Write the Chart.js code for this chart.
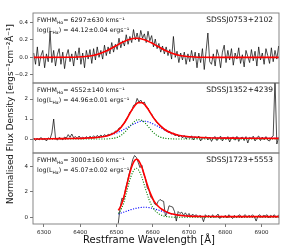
<!DOCTYPE html>
<html>
<head>
<meta charset="utf-8">
<script src="https://cdn.jsdelivr.net/npm/chart.js@4.4.1/dist/chart.umd.min.js"></script>
<style>
  html, body { margin: 0; padding: 0; background: #fff; }
  #wrap { position: relative; width: 299px; height: 248px; }
  #wrap canvas { position: absolute; left: 0; top: 0; }
</style>
</head>
<body>
<div id="wrap">
  <canvas id="panel1" width="299" height="248"></canvas>
  <canvas id="panel2" width="299" height="248"></canvas>
  <canvas id="panel3" width="299" height="248"></canvas>
</div>
<script>
"use strict";

// ---- data ----
const objectNames = ['SDSSJ0753+2102', 'SDSSJ1352+4239', 'SDSSJ1723+5553'];
const fwhmText = ['6297±630', '4552±140', '3000±160'];
const lumText = ['44.12±0.04', '44.96±0.01', '45.07±0.02'];
const xLabel = 'Restframe Wavelength [Å]';
const yLabel = 'Normalised Flux Density [ergs\u207b\u00b9cm\u207b\u00b2Å\u207b\u00b9]';

const xTicks = [6300, 6400, 6500, 6600, 6700, 6800, 6900];
const yTicks1 = [-0.2, 0.0, 0.2, 0.4];
const yTicks2 = [0, 1, 2];
const yTicks3 = [0, 2, 4];

// spectrum wavelength grid, panels 1 and 2
const waveFull = [
  6272, 6277, 6282, 6287, 6292, 6297, 6302, 6307, 6312, 6317,
  6322, 6327, 6332, 6337, 6342, 6347, 6352, 6357, 6362, 6367,
  6372, 6377, 6382, 6387, 6392, 6397, 6402, 6407, 6412, 6417,
  6422, 6427, 6432, 6437, 6442, 6447, 6452, 6457, 6462, 6467,
  6472, 6477, 6482, 6487, 6492, 6497, 6502, 6507, 6512, 6517,
  6522, 6527, 6532, 6537, 6542, 6547, 6552, 6557, 6562, 6567,
  6572, 6577, 6582, 6587, 6592, 6597, 6602, 6607, 6612, 6617,
  6622, 6627, 6632, 6637, 6642, 6647, 6652, 6657, 6662, 6667,
  6672, 6677, 6682, 6687, 6692, 6697, 6702, 6707, 6712, 6717,
  6722, 6727, 6732, 6737, 6742, 6747, 6752, 6757, 6762, 6767,
  6772, 6777, 6782, 6787, 6792, 6797, 6802, 6807, 6812, 6817,
  6822, 6827, 6832, 6837, 6842, 6847, 6852, 6857, 6862, 6867,
  6872, 6877, 6882, 6887, 6892, 6897, 6902, 6907, 6912, 6917,
  6922, 6927, 6932, 6937, 6942, 6947, 6952, 6957
];

const flux1 = [
  0.05, -0.08, 0.12, -0.10, 0.02, 0.08, -0.12, 0.04, -0.05, 0.30,
  -0.06, 0.08, -0.10, 0.03, 0.10, -0.08, 0.06, -0.13, 0.02, 0.09,
  -0.05, 0.04, -0.10, 0.07, -0.03, 0.11, -0.08, 0.05, -0.12, 0.08,
  -0.02, 0.09, -0.07, 0.10, -0.03, 0.12, 0.00, 0.08, -0.02, 0.14,
  0.02, 0.12, 0.04, 0.17, 0.06, 0.15, 0.09, 0.22, 0.11, 0.19,
  0.13, 0.26, 0.15, 0.24, 0.17, 0.32, 0.20, 0.28, 0.18, 0.31,
  0.22, 0.27, 0.17, 0.30, 0.19, 0.25, 0.12, 0.21, 0.10, 0.16,
  0.06, 0.13, 0.04, 0.12, 0.02, 0.09, -0.02, 0.24, 0.00, 0.07,
  -0.06, 0.05, -0.03, 0.06, -0.08, 0.04, -0.05, 0.08, -0.04, 0.06,
  -0.12, 0.05, -0.06, 0.10, -0.14, 0.07, 0.28, -0.05, -0.08, 0.04,
  -0.10, 0.09, 0.02, -0.12, 0.06, 0.14, -0.06, 0.08, -0.03, 0.10,
  -0.09, 0.05, -0.02, 0.11, -0.07, 0.03, -0.11, 0.08, 0.01, -0.06,
  0.09, -0.04, 0.07, -0.10, 0.12, -0.03, 0.05, -0.08, 0.10, 0.02,
  -0.07, 0.11, -0.05, 0.08, -0.02, 0.13, -0.06, 0.09
];

const flux2 = [
  0.05, -0.08, 0.03, -0.05, 0.08, -0.03, 0.02, -0.10, 0.06, 0.00,
  0.30, 1.00, 0.05, -0.06, 0.08, 0.02, -0.04, 0.10, 0.05, 0.22,
  0.08, 0.25, 0.06, 0.12, 0.03, 0.15, 0.02, 0.10, 0.00, 0.12,
  0.04, 0.14, 0.06, 0.16, 0.07, 0.18, 0.10, 0.20, 0.12, 0.22,
  0.15, 0.24, 0.20, 0.30, 0.27, 0.40, 0.38, 0.55, 0.56, 0.72,
  0.78, 1.00, 1.12, 1.35, 1.40, 1.68, 1.72, 2.03, 1.85, 1.95,
  1.78, 1.85, 1.60, 1.55, 1.32, 1.25, 1.05, 0.98, 0.80, 0.75,
  0.62, 0.58, 0.45, 0.47, 0.34, 0.38, 0.24, 0.30, 0.15, 0.25,
  0.10, 0.20, 0.05, 0.17, 0.00, 0.14, 0.03, 0.16, -0.05, 0.12,
  0.02, 0.15, -0.10, 0.08, 0.03, 0.12, -0.05, 0.10, -0.12, 0.06,
  0.12, -0.08, 0.05, 0.14, -0.10, 0.08, -0.02, 0.12, -0.15, 0.06,
  0.10, -0.06, 0.13, -0.12, 0.05, 0.10, -0.08, 0.12, -0.20, 0.08,
  0.02, 0.14, -0.10, 0.06, 0.15, -0.08, 0.10, -0.04, 0.12, -0.06,
  -0.10, 0.08, 0.15, 3.00, -0.25, 0.06, 0.10, -0.30
];

// spectrum wavelength grid, panel 3
const wave3 = [
  6505, 6510, 6515, 6520, 6525, 6530, 6535, 6540, 6545, 6550,
  6555, 6560, 6565, 6570, 6575, 6580, 6585, 6590, 6595, 6600,
  6605, 6610, 6615, 6620, 6625, 6630, 6635, 6640, 6645, 6650,
  6655, 6660, 6665, 6670, 6675, 6680, 6685, 6690, 6695, 6700,
  6705, 6710, 6715, 6720, 6725, 6730, 6735, 6740, 6745, 6750,
  6755, 6760, 6765, 6770, 6775, 6780, 6785, 6790, 6795, 6800,
  6805, 6810, 6815, 6820, 6825, 6830, 6835, 6840, 6845, 6850,
  6855, 6860, 6865, 6870, 6875, 6880, 6885, 6890, 6895, 6900,
  6905, 6910, 6915, 6920, 6925, 6930, 6935, 6940, 6945, 6950,
  6955
];

const flux3 = [
  -0.50, 0.75, 1.50, 1.40, 2.25, 2.80, 3.40, 3.95, 4.55, 4.85,
  4.70, 4.30, 3.90, 4.10, 3.40, 3.05, 2.30, 2.10, 1.55, 1.45,
  1.05, 0.95, 1.25, 1.40, 1.30, 1.25, 0.10, 0.35, 0.90, 0.85,
  0.80, 0.45, -0.30, 0.45, 0.30, 0.40, 0.15, 0.35, 0.10, 0.30,
  0.05, 0.25, 0.10, 0.20, 0.00, 0.15, 0.05, -0.35, 0.20, 0.05,
  0.15, -0.05, 0.20, 0.00, 0.10, 0.25, -0.10, 0.10, 0.00, 0.15,
  -0.05, 0.20, 0.05, -0.10, 0.15, 0.00, 0.10, 0.20, -0.05, 0.10,
  0.20, 0.00, 0.15, 0.05, 0.20, 0.05, -0.30, 0.10, 0.20, 0.00,
  0.15, 0.10, 0.20, -0.05, 0.15, 0.05, 0.20, 0.00, 0.10, 0.25,
  0.05
];

// fitted models
const fitWave1 = [6272, 6375, 6395, 6415, 6435, 6455, 6475, 6495, 6515, 6535, 6555,
  6575, 6595, 6615, 6635, 6655, 6675, 6695, 6715, 6735, 6760, 6957];
const fitTotal1 = [0, 0.001, 0.004, 0.010, 0.022, 0.045, 0.079, 0.124, 0.170, 0.206, 0.220,
  0.206, 0.170, 0.124, 0.079, 0.045, 0.022, 0.010, 0.004, 0.001, 0, 0];

const fitWave2 = [6272, 6320, 6360, 6400, 6420, 6440, 6460, 6480, 6500, 6510, 6520, 6530,
  6540, 6550, 6560, 6570, 6580, 6590, 6600, 6610, 6620, 6635, 6650, 6670, 6700, 6750, 6850, 6957];
const fitTotal2 = [0.00, 0.01, 0.02, 0.03, 0.05, 0.07, 0.11, 0.19, 0.37, 0.53, 0.76, 1.05,
  1.38, 1.65, 1.82, 1.82, 1.67, 1.41, 1.12, 0.87, 0.68, 0.45, 0.31, 0.19, 0.11, 0.06, 0.04, 0.03];
const fitNarrow2 = [0, 0, 0, 0, 0, 0, 0, 0.01, 0.07, 0.15, 0.29, 0.48,
  0.70, 0.88, 0.97, 0.93, 0.78, 0.57, 0.36, 0.20, 0.10, 0.03, 0.01, 0, 0, 0, 0, 0];
const fitBroad2 = [0.00, 0.01, 0.02, 0.03, 0.05, 0.07, 0.11, 0.18, 0.30, 0.38, 0.47, 0.57,
  0.68, 0.77, 0.85, 0.89, 0.89, 0.84, 0.76, 0.67, 0.58, 0.42, 0.30, 0.19, 0.11, 0.06, 0.04, 0.03];

const fitWave3 = [6505, 6510, 6515, 6520, 6525, 6530, 6535, 6540, 6545, 6550, 6555, 6560,
  6565, 6570, 6575, 6580, 6585, 6590, 6595, 6600, 6605, 6615, 6625, 6635, 6645, 6655,
  6670, 6685, 6700, 6720, 6750, 6800, 6880, 6957];
const fitTotal3 = [0.55, 0.75, 1.10, 1.55, 2.10, 2.70, 3.30, 3.80, 4.19, 4.46, 4.56, 4.49,
  4.26, 3.93, 3.49, 3.01, 2.56, 2.14, 1.78, 1.47, 1.21, 0.87, 0.63, 0.46, 0.34, 0.25,
  0.17, 0.12, 0.09, 0.07, 0.06, 0.05, 0.05, 0.05];
const fitNarrow3 = [0.30, 0.45, 0.75, 1.15, 1.65, 2.20, 2.75, 3.20, 3.55, 3.78, 3.85, 3.75,
  3.50, 3.15, 2.70, 2.22, 1.78, 1.38, 1.05, 0.78, 0.56, 0.30, 0.15, 0.07, 0.03, 0.01,
  0, 0, 0, 0, 0, 0, 0, 0];
const fitBroad3 = [0.25, 0.30, 0.35, 0.40, 0.45, 0.50, 0.55, 0.60, 0.64, 0.68, 0.71, 0.74,
  0.76, 0.78, 0.79, 0.79, 0.78, 0.76, 0.73, 0.69, 0.65, 0.57, 0.48, 0.39, 0.31, 0.24,
  0.17, 0.12, 0.09, 0.07, 0.06, 0.05, 0.05, 0.05];

// ---- drawing ----
const FONT = '"DejaVu Sans", sans-serif';
const tickFont = { family: FONT, size: 5.5 };
const X_MIN = 6270, X_MAX = 6948;

function pts(xs, ys) {
  return xs.map((x, i) => ({ x: x, y: ys[i] }));
}

function fmt(v, decimals) {
  return v.toFixed(decimals).replace('-', '\u2212');
}

function spectrum(xs, ys) {
  return { data: pts(xs, ys), borderColor: '#000', borderWidth: 0.7, pointRadius: 0, tension: 0 };
}
function totalFit(xs, ys) {
  return { data: pts(xs, ys), borderColor: '#ff0000', borderWidth: 1.6, pointRadius: 0,
    cubicInterpolationMode: 'monotone' };
}
function component(xs, ys, colour) {
  return { data: pts(xs, ys), borderColor: colour, borderWidth: 1.1, borderDash: [1.1, 1.5],
    pointRadius: 0, cubicInterpolationMode: 'monotone' };
}

function drawRuns(ctx, x, y, runs) {
  for (const [txt, sub] of runs) {
    ctx.font = (sub ? '4.4px ' : '6.3px ') + FONT;
    ctx.fillText(txt, x, sub ? y + 1.8 : y);
    x += ctx.measureText(txt).width;
  }
}

function panelDecor(i) {
  return {
    id: 'panelDecor' + i,
    afterDatasetsDraw(chart) {
      const { ctx, chartArea: a } = chart;
      ctx.save();
      ctx.strokeStyle = '#7a7a7a';
      ctx.lineWidth = 0.9;
      ctx.strokeRect(a.left, a.top, a.right - a.left, a.bottom - a.top);
      ctx.fillStyle = '#111';
      ctx.textBaseline = 'middle';
      ctx.textAlign = 'right';
      ctx.font = '7.5px ' + FONT;
      ctx.fillText(objectNames[i], a.right - 6, a.top + 7.5);
      ctx.textAlign = 'left';
      drawRuns(ctx, a.left + 4, a.top + 7.8,
        [['FWHM', 0], ['H\u03b1', 1], ['= ' + fwhmText[i] + ' kms\u207b\u00b9', 0]]);
      drawRuns(ctx, a.left + 4, a.top + 17.6,
        [['log(L', 0], ['H\u03b1', 1], [') = ' + lumText[i] + ' ergs\u207b\u00b9', 0]]);
      ctx.restore();
    }
  };
}

// shared figure labels (centred on the figure, like supxlabel / supylabel)
const figureLabels = {
  id: 'figureLabels',
  afterDraw(chart) {
    const ctx = chart.ctx;
    ctx.save();
    ctx.fillStyle = '#111';
    ctx.textAlign = 'center';
    ctx.textBaseline = 'middle';
    ctx.font = '10px ' + FONT;
    ctx.fillText(xLabel, 149, 240);
    ctx.translate(11, 114);
    ctx.rotate(-Math.PI / 2);
    ctx.font = '8.8px ' + FONT;
    ctx.fillText(yLabel, 0, 0);
    ctx.restore();
  }
};

function yScale(min, max, ticks, decimals) {
  return {
    type: 'linear', min: min, max: max,
    afterBuildTicks: s => { s.ticks = ticks.map(v => ({ value: v })); },
    afterFit: s => { s.width = 33; },
    ticks: { font: tickFont, color: '#222', padding: 2, callback: v => fmt(v, decimals) },
    grid: { display: true, drawOnChartArea: false, drawTicks: true, tickLength: 3,
      tickColor: '#555', tickWidth: 0.8 },
    border: { display: false }
  };
}

function xScale(show) {
  if (!show) return { type: 'linear', min: X_MIN, max: X_MAX, display: false };
  return {
    type: 'linear', min: X_MIN, max: X_MAX,
    afterBuildTicks: s => { s.ticks = xTicks.map(v => ({ value: v })); },
    afterFit: s => { s.height = 24; },
    ticks: { font: tickFont, color: '#222', padding: 2, maxRotation: 0, callback: v => String(v) },
    grid: { display: true, drawOnChartArea: false, drawTicks: true, tickLength: 3,
      tickColor: '#555', tickWidth: 0.8 },
    border: { display: false }
  };
}

function makePanel(id, i, datasets, y, pad, showX) {
  const plugins = [panelDecor(i)];
  if (showX) plugins.push(figureLabels);
  new Chart(document.getElementById(id), {
    type: 'line',
    data: { datasets: datasets },
    options: {
      responsive: false,
      animation: false,
      devicePixelRatio: 1,
      events: [],
      layout: { padding: pad },
      plugins: { legend: { display: false }, tooltip: { enabled: false } },
      scales: { x: xScale(showX), y: y }
    },
    plugins: plugins
  });
}

makePanel('panel1', 0, [
  totalFit(fitWave1, fitTotal1),
  spectrum(waveFull, flux1)
], yScale(-0.295, 0.51, yTicks1, 1), { top: 13, bottom: 165, left: 0, right: 20 }, false);

makePanel('panel2', 1, [
  totalFit(fitWave2, fitTotal2),
  component(fitWave2, fitNarrow2, '#008000'),
  component(fitWave2, fitBroad2, '#0000ff'),
  spectrum(waveFull, flux2)
], yScale(-0.7, 2.8, yTicks2, 0), { top: 83, bottom: 95, left: 0, right: 20 }, false);

makePanel('panel3', 2, [
  totalFit(fitWave3, fitTotal3),
  component(fitWave3, fitNarrow3, '#008000'),
  component(fitWave3, fitBroad3, '#0000ff'),
  spectrum(wave3, flux3)
], yScale(-0.53, 5.05, yTicks3, 0), { top: 153, bottom: 0, left: 0, right: 20 }, true);
</script>
</body>
</html>
